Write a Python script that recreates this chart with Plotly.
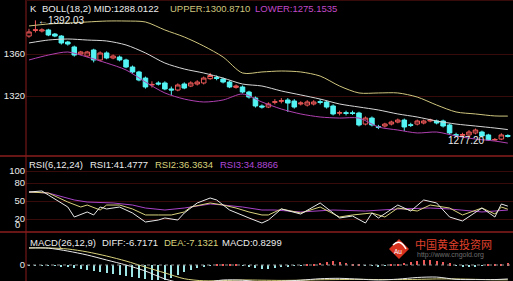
import plotly.graph_objects as go

W, H = 513, 281

# ---------------- data ----------------
idx = list(range(75))
opens = [1377.1, 1382.5, 1381.9, 1382.9, 1379.0, 1377.1, 1371.4, 1366.7, 1360.0, 1358.1,
         1363.8, 1354.3, 1361.0, 1356.2, 1357.1, 1354.3, 1347.6, 1342.9, 1337.1, 1330.5,
         1332.4, 1332.4, 1326.7, 1325.7, 1331.4, 1329.5, 1331.4, 1332.4, 1336.5, 1337.6,
         1336.2, 1333.3, 1328.2, 1328.6, 1323.8, 1318.1, 1310.5, 1309.5, 1314.0, 1315.0,
         1316.2, 1315.2, 1312.4, 1311.4, 1312.4, 1314.6, 1314.3, 1310.5, 1303.6, 1304.1,
         1304.0, 1303.8, 1293.3, 1299.0, 1290.8, 1291.4, 1293.3, 1295.2, 1297.1, 1292.6,
         1293.3, 1294.3, 1296.2, 1296.2, 1296.2, 1292.4, 1283.2, 1282.6, 1282.9, 1284.8,
         1285.7, 1282.9, 1278.1, 1279.0, 1282.4]
closes = [1381.0, 1383.0, 1382.9, 1378.1, 1377.1, 1370.5, 1369.5, 1359.0, 1361.9, 1361.9,
          1354.3, 1361.0, 1356.2, 1358.1, 1354.3, 1347.6, 1342.9, 1335.2, 1328.6, 1331.0,
          1331.4, 1326.7, 1325.7, 1330.5, 1327.6, 1332.4, 1333.3, 1337.1, 1339.5, 1336.8,
          1333.3, 1328.6, 1329.5, 1323.8, 1319.0, 1310.5, 1309.5, 1312.4, 1314.5, 1315.5,
          1313.3, 1309.5, 1313.3, 1314.3, 1314.3, 1314.0, 1309.5, 1302.9, 1304.1, 1303.5,
          1303.4, 1292.4, 1299.0, 1292.4, 1290.2, 1293.3, 1295.2, 1297.1, 1290.5, 1292.1,
          1296.2, 1296.2, 1297.1, 1294.3, 1291.4, 1284.8, 1282.6, 1283.2, 1285.7, 1287.6,
          1281.9, 1278.1, 1278.6, 1282.9, 1281.6]
highs = [1384.0, 1392.03, 1384.5, 1384.0, 1380.0, 1378.0, 1372.5, 1368.0, 1363.0, 1363.0,
         1365.0, 1362.5, 1362.5, 1359.5, 1358.5, 1355.5, 1349.0, 1344.0, 1338.5, 1334.0,
         1334.0, 1334.0, 1329.0, 1332.0, 1333.0, 1334.0, 1335.0, 1338.5, 1342.0, 1339.5,
         1337.5, 1334.5, 1331.0, 1330.0, 1325.0, 1319.5, 1312.0, 1314.0, 1317.0, 1318.0,
         1318.0, 1317.0, 1315.0, 1316.0, 1316.0, 1317.0, 1315.5, 1312.0, 1306.0, 1306.0,
         1306.0, 1305.0, 1300.5, 1300.5, 1292.5, 1294.5, 1296.5, 1298.5, 1298.5, 1294.5,
         1297.5, 1297.5, 1298.5, 1297.5, 1297.5, 1293.5, 1285.0, 1285.0, 1287.5, 1289.0,
         1287.0, 1284.0, 1280.0, 1284.5, 1283.5]
lows = [1375.5, 1380.5, 1380.5, 1377.0, 1376.0, 1369.0, 1368.0, 1357.5, 1359.0, 1357.0,
        1352.0, 1353.0, 1355.0, 1355.0, 1353.0, 1346.5, 1341.5, 1334.0, 1327.0, 1328.0,
        1330.0, 1325.5, 1321.0, 1324.5, 1326.5, 1328.5, 1330.0, 1331.0, 1335.5, 1335.0,
        1332.0, 1327.5, 1327.0, 1322.5, 1317.5, 1309.0, 1308.0, 1308.5, 1312.0, 1313.0,
        1304.8, 1308.0, 1311.0, 1310.0, 1311.0, 1312.0, 1308.0, 1301.5, 1301.5, 1301.5,
        1302.0, 1291.0, 1292.0, 1291.0, 1288.5, 1290.0, 1292.0, 1294.0, 1286.7, 1290.5,
        1292.0, 1293.0, 1295.0, 1293.0, 1290.0, 1283.5, 1281.0, 1281.0, 1281.5, 1283.5,
        1280.5, 1277.2, 1277.5, 1278.0, 1280.5]

band_idx = [0, 3, 6, 9, 12, 15, 18, 21, 24, 27, 30, 33, 36, 39, 42, 45, 48, 51, 54, 57,
            60, 63, 66, 69, 72, 74]
boll_upper = [1386.7, 1388.6, 1389.5, 1390.5, 1391.4, 1391.4, 1390.5, 1382.9, 1376.2, 1367.6,
              1357.1, 1341.9, 1342.9, 1343.8, 1342.9, 1339.0, 1329.5, 1322.9, 1322.9, 1322.9,
              1319.0, 1311.4, 1304.8, 1302.9, 1301.0, 1300.87]
boll_mid = [1370.5, 1373.3, 1374.3, 1373.3, 1372.4, 1368.6, 1361.0, 1351.4, 1345.7, 1341.9,
            1337.1, 1331.4, 1329.5, 1324.8, 1321.0, 1317.1, 1312.4, 1309.5, 1306.7, 1302.9,
            1300.0, 1296.2, 1293.3, 1291.4, 1289.5, 1288.01]
boll_lower = [1354.3, 1359.0, 1361.9, 1357.1, 1351.4, 1344.8, 1333.3, 1322.9, 1317.1, 1314.3,
              1316.2, 1321.9, 1314.3, 1307.6, 1302.9, 1300.0, 1299.0, 1299.0, 1290.5, 1287.6,
              1284.8, 1285.7, 1281.9, 1279.0, 1277.1, 1275.15]

rsi1_idx = [0, 2, 3, 6, 7, 9, 10, 11, 12, 14, 16, 18, 20, 21, 23, 24, 26, 28, 29, 31, 34, 36,
            37, 39, 42, 45, 48, 50, 52, 53, 54, 57, 59, 61, 63, 65, 67, 70, 72, 73, 74]
rsi1 = [65, 66.7, 60, 40, 23.3, 31.7, 26.7, 40, 36.7, 40, 30, 15, 18.3, 21.7, 18.3, 30, 46.7,
        55, 51.7, 35, 21.7, 13.3, 18.3, 36.7, 28.3, 46.7, 21.7, 25, 13.3, 30, 21.7, 43.3, 33.3,
        51.7, 46.7, 23.3, 16.7, 38.3, 23.3, 45, 41.48]
rsi2_idx = [0, 3, 6, 8, 9, 11, 12, 14, 16, 18, 20, 22, 24, 25, 28, 30, 32, 34, 36, 37, 39, 42,
            45, 48, 50, 53, 55, 57, 60, 62, 65, 67, 70, 72, 73, 74]
rsi2 = [65, 63.3, 48.3, 40, 43.3, 35, 43.3, 43.3, 36.7, 26.7, 26.7, 26.7, 31.7, 40, 46.7, 43.3,
        38.3, 31.7, 26.7, 26.7, 36.7, 30, 40, 23.3, 26.7, 30, 23.3, 38.3, 33.3, 43.3, 38.3, 26.7,
        38.3, 28.3, 40, 36.36]
rsi3_idx = [0, 3, 7, 9, 13, 16, 18, 21, 24, 28, 30, 33, 36, 38, 42, 47, 52, 57, 62, 65, 70, 74]
rsi3 = [65, 63.3, 51.7, 48.3, 46.7, 43.3, 38.3, 35, 38.3, 45, 43.3, 40, 35, 35, 31.7, 35, 33.3,
        36.7, 38.3, 36.7, 31.7, 34.89]

macd_idx = band_idx
diff = [8.2, 8.1, 6.7, 4.8, 2.4, 0.0, -2.9, -6.7, -8.8, -8.5, -7.2, -7.3, -8.2, -7.8, -7.3,
        -6.6, -6.4, -6.8, -7.2, -6.8, -6.0, -5.8, -6.9, -7.0, -7.0, -6.72]
dea = [8.2, 8.2, 7.7, 6.3, 4.3, 1.9, -1.0, -3.8, -6.6, -7.6, -7.5, -7.2, -7.3, -7.4, -7.3,
       -7.1, -7.0, -6.9, -7.0, -7.0, -6.9, -6.7, -6.7, -6.9, -7.1, -7.13]
macd_hist = [-0.2, -0.2, -0.2, -0.3, -0.3, -0.5, -1.0, -1.4, -1.9, -2.4,
             -2.9, -3.4, -3.8, -4.3, -4.8, -5.3, -5.8, -6.2, -6.7, -7.0,
             -7.2, -7.0, -6.2, -5.0, -3.6, -2.4, -1.4, -0.8, -0.4, 0.3,
             0.5, 0.4, 0.3, -0.3, -0.8, -1.2, -1.9, -1.9, -1.4, -1.0,
             -0.5, -0.3, -0.2, 0.2, 0.5, 1.0, 1.4, 1.9, 1.4, 1.0,
             0.5, 0.2, -0.3, -0.4, -0.5, -0.3, 0.2, 0.5, 1.0, 1.4,
             1.9, 2.4, 2.4, 1.9, 1.4, 0.8, -0.4, -0.8, -0.9, -0.5,
             -0.2, 0.2, 0.3, 0.5, 0.83]

price_ticks = [1320, 1360]
rsi_ticks = [0, 20, 50, 80, 100]
rsi_ticktext = ["", "20", "50", "80", "100"]

# ---------------- style ----------------
UP = "#f05a5a"
DN = "#54f4f4"
C_UPPER = "#cfc67e"
C_MID = "#d6d6d6"
C_LOWER = "#b040b0"
C_RSI1 = "#e8e8e8"
C_RSI2 = "#d8d27c"
C_RSI3 = "#a844c8"
TXT = "#ececec"
GRID = "#380b0b"
BORDER = "#8a1c1c"
FONT = "Liberation Sans, Arial, sans-serif"
FS = 9.5

def px(x):
    return x / W

def py(y):
    return 1 - y / H

XR = [-0.46, 74.8]

fig = go.Figure()

fig.add_trace(go.Candlestick(
    x=idx, open=opens, high=highs, low=lows, close=closes,
    increasing=dict(line=dict(color=UP, width=1), fillcolor="rgba(0,0,0,0)"),
    decreasing=dict(line=dict(color=DN, width=1), fillcolor=DN),
    whiskerwidth=0, showlegend=False, xaxis="x", yaxis="y", hoverinfo="skip"))

for vals, col in [(boll_upper, C_UPPER), (boll_mid, C_MID), (boll_lower, C_LOWER)]:
    fig.add_trace(go.Scatter(x=band_idx, y=vals, mode="lines",
                             line=dict(color=col, width=1, shape="spline", smoothing=0.8),
                             showlegend=False, xaxis="x", yaxis="y", hoverinfo="skip"))

for xs, vals, col in [(rsi3_idx, rsi3, C_RSI3), (rsi2_idx, rsi2, C_RSI2), (rsi1_idx, rsi1, C_RSI1)]:
    fig.add_trace(go.Scatter(x=xs, y=vals, mode="lines", line=dict(color=col, width=1),
                             showlegend=False, xaxis="x2", yaxis="y2", hoverinfo="skip"))

fig.add_trace(go.Bar(x=idx, y=macd_hist, width=0.16,
                     marker=dict(color=[UP if v > 0 else "#9ee6e6" for v in macd_hist], line=dict(width=0)),
                     showlegend=False, xaxis="x3", yaxis="y3", hoverinfo="skip"))
for vals, col in [(dea, C_RSI2), (diff, C_RSI1)]:
    fig.add_trace(go.Scatter(x=macd_idx, y=vals, mode="lines",
                             line=dict(color=col, width=1, shape="spline", smoothing=0.8),
                             showlegend=False, xaxis="x3", yaxis="y3", hoverinfo="skip"))

axis_common = dict(showgrid=True, gridcolor=GRID, gridwidth=1, zeroline=False, showline=False,
                   ticks="", tickfont=dict(color=TXT, size=FS, family=FONT), fixedrange=True)

fig.update_layout(
    width=W, height=H, margin=dict(l=0, r=0, t=0, b=0),
    paper_bgcolor="black", plot_bgcolor="black", showlegend=False, hovermode=False,
    bargap=0, boxgap=0.3, boxgroupgap=0,
    xaxis=dict(domain=[px(26), 1], range=XR, visible=False, rangeslider=dict(visible=False), anchor="y"),
    xaxis2=dict(domain=[px(26), 1], range=XR, visible=False, anchor="y2", matches="x"),
    xaxis3=dict(domain=[px(26), 1], range=XR, visible=False, anchor="y3", matches="x"),
    yaxis=dict(domain=[py(156), py(1)], range=[1262.86, 1410.48], tickvals=price_ticks,
               anchor="x", **axis_common),
    yaxis2=dict(domain=[py(232), py(156)], range=[-1.67, 125], tickvals=rsi_ticks,
                ticktext=rsi_ticktext, anchor="x2", **axis_common),
    yaxis3=dict(domain=[0, py(232)], range=[-7.69, 15.87], tickvals=[0], showgrid=False,
                zeroline=False, showline=False, ticks="",
                tickfont=dict(color=TXT, size=FS, family=FONT), anchor="x3", fixedrange=True),
)

shapes = [
    dict(type="line", xref="paper", yref="paper", x0=px(26), x1=px(26), y0=0, y1=1,
         line=dict(color=BORDER, width=1)),
    dict(type="line", xref="paper", yref="paper", x0=0, x1=1, y0=py(156), y1=py(156),
         line=dict(color=BORDER, width=1.5)),
    dict(type="line", xref="paper", yref="paper", x0=0, x1=1, y0=py(232), y1=py(232),
         line=dict(color=BORDER, width=1.5)),
    dict(type="line", xref="paper", yref="paper", x0=px(26), x1=1, y0=py(0.5), y1=py(0.5),
         line=dict(color=GRID, width=1)),
    dict(type="line", xref="paper", yref="y3", x0=px(27), x1=1, y0=0, y1=0,
         line=dict(color="#8a8a8a", width=1, dash="dot")),
    # watermark logo
    dict(type="path", xref="paper", yref="paper",
         path=f"M {px(399)} {py(239)} L {px(409)} {py(249)} L {px(399)} {py(259)} L {px(389)} {py(249)} Z",
         fillcolor="#d8321e", line=dict(width=0)),
    dict(type="path", xref="paper", yref="paper",
         path=f"M {px(393)} {py(245)} Q {px(400)} {py(238)} {px(406)} {py(249)}",
         line=dict(color="white", width=1.5)),
]
fig.update_layout(shapes=shapes)

def ann(text, x, y, color=TXT, size=FS, xanchor="left", family=FONT):
    return dict(text=text, x=px(x), y=py(y), xref="paper", yref="paper", showarrow=False,
                xanchor=xanchor, yanchor="middle", font=dict(color=color, size=size, family=family))

annotations = [
    ann("K", 28, 8), ann("BOLL(18,2) MID:1288.0122", 40, 8),
    ann("UPPER:1300.8710", 168, 8, C_UPPER), ann("LOWER:1275.1535", 253, 8, "#c048c8"),
    ann("RSI(6,12,24)", 27, 164), ann("RSI1:41.4777", 88, 164),
    ann("RSI2:36.3634", 153, 164, C_RSI2), ann("RSI3:34.8866", 218, 164, "#b048d8"),
    ann("MACD(26,12,9)", 28, 242), ann("DIFF:-6.7171", 100, 242),
    ann("DEA:-7.1321", 162, 242, C_RSI2), ann("MACD:0.8299", 220, 242),
    ann("0", 22, 224, xanchor="right"),
    ann("Au", 398, 251, "white", 6.5, xanchor="center"),
    ann("中国黄金投资网", 413, 244, "#e0402c", 11, family="Noto Sans CJK SC"),
    ann("http://www.cngold.org", 415, 255, "#6e6e6e", 7),
    dict(text="←1392.03", x=1, y=1392.03, xref="x", yref="y", showarrow=False,
         xanchor="left", yanchor="middle", xshift=1,
         font=dict(color=TXT, size=FS + 0.5, family=FONT)),
    dict(text="1277.20", x=71, y=1277.2, xref="x", yref="y", showarrow=False,
         xanchor="right", yanchor="middle", xshift=-1,
         font=dict(color=TXT, size=FS + 0.5, family=FONT)),
]
fig.update_layout(annotations=annotations)

fig.write_html("out.html", config={"displayModeBar": False})
